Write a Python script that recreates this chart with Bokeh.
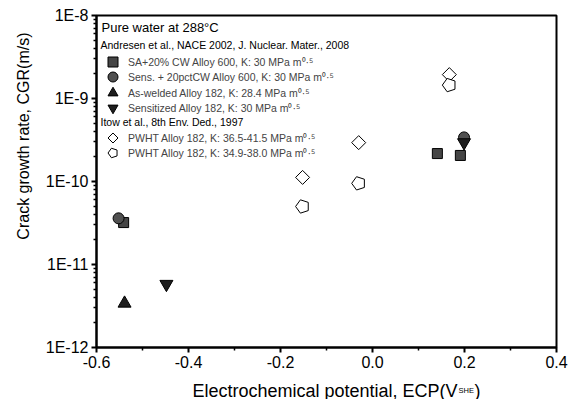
import numpy as np
from bokeh.plotting import figure
from bokeh.layouts import column
from bokeh.models import (FixedTicker, CustomJSTickFormatter, NumeralTickFormatter,
                          Label, Legend, LegendItem, Range1d, Title)
from bokeh.embed import file_html
from bokeh.resources import INLINE

# ---- data ----
sq_x = [-0.541, 0.141, 0.191]
sq_y = [3.2e-11, 2.17e-10, 2.06e-10]
ci_x = [-0.552, 0.199]
ci_y = [3.6e-11, 3.4e-10]
tu_x = [-0.539]
tu_y = [3.4e-12]
td_x = [-0.448, 0.199]
td_y = [5.8e-12, 2.95e-10]
di_x = [-0.152, -0.030, 0.167]
di_y = [1.12e-10, 2.94e-10, 1.94e-9]
pe_x = [-0.152, -0.030, 0.167]
pe_y = [5.0e-11, 9.5e-11, 1.45e-9]

x_ticks = [-0.6, -0.4, -0.2, 0.0, 0.2, 0.4]
x_minor = [-0.5, -0.3, -0.1, 0.1, 0.3]
y_ticks = [1e-12, 1e-11, 1e-10, 1e-9, 1e-8]

labels = ["SA+20% CW Alloy 600, K: 30 MPa m\u2070\u00b7\u2075",
          "Sens. + 20pctCW Alloy 600, K: 30 MPa m\u2070\u00b7\u2075",
          "As-welded Alloy 182, K: 28.4 MPa m\u2070\u00b7\u2075",
          "Sensitized Alloy 182, K: 30 MPa m\u2070\u00b7\u2075",
          "PWHT Alloy 182, K: 36.5-41.5 MPa m\u2070\u00b7\u2075",
          "PWHT Alloy 182, K: 34.9-38.0 MPa m\u2070\u00b7\u2075"]

FONT = "Liberation Sans"

p = figure(width=572, height=374, y_axis_type="log", output_backend="svg",
           toolbar_location=None, x_range=Range1d(-0.6, 0.4), y_range=Range1d(1e-12, 1e-8),
           min_border_left=96, min_border_right=16, min_border_top=15, min_border_bottom=27)
p.grid.visible = False
p.outline_line_color = "black"
p.outline_line_width = 2
p.background_fill_color = "white"
p.border_fill_color = "white"

minor_y = [m * 10.0**e for e in range(-12, -8) for m in range(2, 10)]
p.xaxis.ticker = FixedTicker(ticks=x_ticks, minor_ticks=x_minor)
p.yaxis.ticker = FixedTicker(ticks=y_ticks, minor_ticks=minor_y)
p.xaxis.formatter = NumeralTickFormatter(format="0.0")
p.yaxis.formatter = CustomJSTickFormatter(code='return "1E" + Math.round(Math.log10(tick));')
for ax in (p.xaxis[0], p.yaxis[0]):
    ax.axis_line_width = 2
    ax.major_tick_line_width = 2
    ax.minor_tick_line_width = 1.5
    ax.major_tick_in = 0
    ax.major_tick_out = 5
    ax.minor_tick_in = 0
    ax.minor_tick_out = 3
    ax.major_label_text_font = FONT
    ax.major_label_text_font_size = "16px"
    ax.major_label_text_color = "black"
    ax.major_label_standoff = 3

# y axis title (upper part of the left side, as in the original)
p.add_layout(Title(text="Crack growth rate, CGR(m/s)", align="right", offset=17,
                   text_font=FONT, text_font_size="16px", text_font_style="normal",
                   text_color="black", standoff=22), "left")

# ---- glyphs ----
r_sq = p.scatter(sq_x, sq_y, marker="square", size=10, fill_color="#454545", line_color="black", line_width=1)
r_ci = p.scatter(ci_x, ci_y, marker="circle", size=11, fill_color="#505050", line_color="black", line_width=1)
r_tu = p.scatter(tu_x, tu_y, marker="triangle", size=13, fill_color="#1e1e1e", line_color="black", line_width=1)
r_td = p.scatter(td_x, td_y, marker="inverted_triangle", size=13, fill_color="#1e1e1e", line_color="black", line_width=1)
r_di = p.ngon(x=di_x, y=di_y, radius=7, radius_units="screen", n=4, angle=0,
              fill_color="white", line_color="black", line_width=1)
r_pe = p.ngon(x=pe_x, y=pe_y, radius=7, radius_units="screen", n=5, angle=np.pi/2,
              fill_color="white", line_color="black", line_width=1)

# one legend per row so rows can sit closer than the glyph box
rends = [r_sq, r_ci, r_tu, r_td, r_di, r_pe]
row_y = [273, 258, 242, 227, 197, 182]
for lbl, rr, yy in zip(labels, rends, row_y):
    p.add_layout(Legend(items=[LegendItem(label=lbl, renderers=[rr])],
                        location=(4, yy), padding=0, margin=0, spacing=0,
                        glyph_width=25, glyph_height=25, label_height=25, label_standoff=3,
                        label_text_font=FONT, label_text_font_size="10.5px",
                        border_line_color=None, background_fill_alpha=0))

def lab(fig, x, y, text, size, **kw):
    fig.add_layout(Label(x=x, y=y, x_units="screen", y_units="screen", text=text,
                         text_font=FONT, text_font_size=size, text_color="black", **kw))

lab(p, 5, 320, "Pure water at 288\u00b0C", "13px", text_baseline="middle")
lab(p, 4, 303, "Andresen et al., NACE 2002, J. Nuclear. Mater., 2008", "10.5px", text_baseline="middle")
lab(p, 4, 226, "Itow et al., 8th Env. Ded., 1997", "10.5px", text_baseline="middle")

# x axis title with subscript, in a strip below the plot (its frame aligns with the plot's)
q = figure(width=572, height=25, output_backend="svg", toolbar_location=None, title=None,
           x_axis_location=None, y_axis_location=None, min_border=0,
           x_range=Range1d(0, 1), y_range=Range1d(0, 1))
q.grid.visible = False
q.outline_line_color = None
q.border_fill_color = "white"
lab(q, 361, 9, "Electrochemical potential, ECP(V", "18px", text_align="right", text_baseline="alphabetic")
lab(q, 362, 9, "SHE", "7.5px", text_baseline="alphabetic")
lab(q, 378, 9, ")", "18px", text_baseline="alphabetic")

open("out.html", "w").write(file_html(column(p, q, spacing=0), INLINE))
